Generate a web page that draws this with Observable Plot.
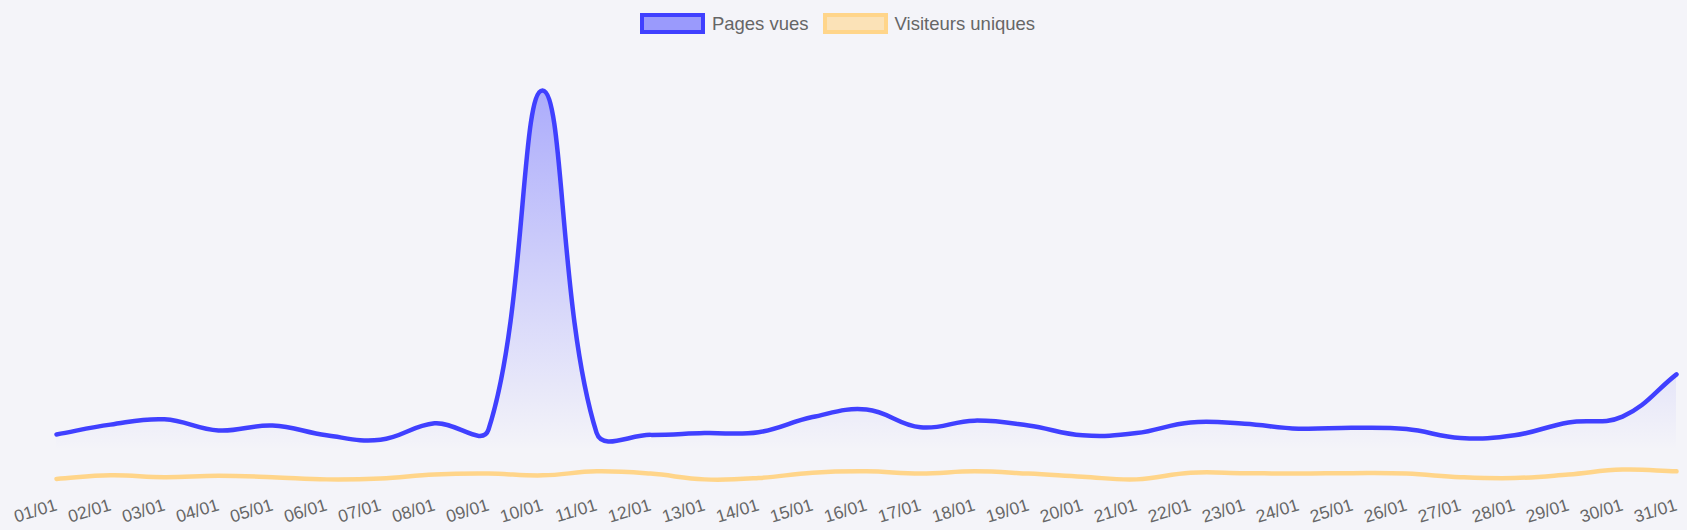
<!DOCTYPE html>
<html>
<head>
<meta charset="utf-8">
<script src="https://cdn.jsdelivr.net/npm/d3@7"></script>
<script src="https://cdn.jsdelivr.net/npm/@observablehq/plot@0.6"></script>
<style>
  html, body { margin: 0; padding: 0; background: #f4f4f9; }
  body { width: 1687px; height: 530px; overflow: hidden; font-family: "Liberation Sans", Arial, sans-serif; }
  #legend { height: 36px; box-sizing: border-box; padding-top: 13px; padding-right: 12px; display: flex; justify-content: center; align-items: flex-start; font-size: 18.5px; color: #666; line-height: 21px; }
  .item { display: inline-flex; align-items: center; margin: 0 7px; }
  .box { display: inline-block; width: 57px; height: 13px; border: 4px solid; margin-right: 7px; }
  #chart svg { display: block; }
</style>
</head>
<body>
<div id="legend"></div>
<div id="chart"></div>
<script>
const days = ["01/01","02/01","03/01","04/01","05/01","06/01","07/01","08/01","09/01","10/01",
  "11/01","12/01","13/01","14/01","15/01","16/01","17/01","18/01","19/01","20/01",
  "21/01","22/01","23/01","24/01","25/01","26/01","27/01","28/01","29/01","30/01","31/01"];
const pageViews = [126,148,160,135,146,124,114,151,137,899,
  130,125,129,131,165,182,142,157,146,124,
  129,153,150,139,141,138,118,124,153,166,261];
const uniqueVisitors = [26,34,30,33,30,25,27,36,38,34,
  43,38,25,28,40,43,38,43,38,31,
  25,40,39,38,39,38,30,28,36,47,43];
const seriesNames = ["Pages vues", "Visiteurs uniques"];
const blue = "#4040ff";
const orange = "#ffd58a";

// legend
const legend = document.getElementById("legend");
[[seriesNames[0], blue, "rgba(64,64,255,0.5)"], [seriesNames[1], orange, "rgba(255,213,138,0.6)"]].forEach(([name, stroke, fill]) => {
  const it = document.createElement("span");
  it.className = "item";
  const b = document.createElement("span");
  b.className = "box";
  b.style.borderColor = stroke;
  b.style.background = fill;
  it.appendChild(b);
  it.appendChild(document.createTextNode(name));
  legend.appendChild(it);
});

// Chart.js-like bezier spline (tension 0.4)
function chartjsCurve(tension) {
  return function(context) { return new ChartjsSpline(context, tension); };
}
function ChartjsSpline(context, t) { this._context = context; this._t = t; }
ChartjsSpline.prototype = {
  areaStart() { this._line = 0; },
  areaEnd() { this._line = NaN; },
  lineStart() { this._pts = []; },
  point(x, y) { this._pts.push([+x, +y]); },
  lineEnd() {
    const p = this._pts, n = p.length, c = this._context, t = this._t;
    if (n) {
      if (this._line) c.lineTo(p[0][0], p[0][1]); else c.moveTo(p[0][0], p[0][1]);
      const cps = p.map((cur, i) => {
        const prev = p[i - 1] || cur, next = p[i + 1] || cur;
        const d01 = Math.hypot(cur[0] - prev[0], cur[1] - prev[1]);
        const d12 = Math.hypot(next[0] - cur[0], next[1] - cur[1]);
        let s01 = d01 / (d01 + d12), s12 = d12 / (d01 + d12);
        if (isNaN(s01)) s01 = 0;
        if (isNaN(s12)) s12 = 0;
        const fa = t * s01, fb = t * s12;
        return {
          px: cur[0] - fa * (next[0] - prev[0]), py: cur[1] - fa * (next[1] - prev[1]),
          nx: cur[0] + fb * (next[0] - prev[0]), ny: cur[1] + fb * (next[1] - prev[1])
        };
      });
      for (let i = 1; i < n; i++) {
        c.bezierCurveTo(cps[i - 1].nx, cps[i - 1].ny, cps[i].px, cps[i].py, p[i][0], p[i][1]);
      }
    }
    if (this._line || (this._line !== 0 && n === 1)) c.closePath();
    this._line = 1 - this._line;
  }
};
const curve = chartjsCurve(0.4);

const table = days.map((d, i) => ({day: d, views: pageViews[i], visitors: uniqueVisitors[i]}));

const H = 494, MT = 9, MB = 40;
const gradient = () => {
  const defs = d3.create("svg:defs");
  const g = defs.append("linearGradient").attr("id", "blueGrad")
    .attr("gradientUnits", "userSpaceOnUse").attr("x1", 0).attr("x2", 0).attr("y1", MT).attr("y2", 414);
  g.append("stop").attr("offset", 0).attr("stop-color", "rgb(64,64,255)").attr("stop-opacity", 0.45);
  g.append("stop").attr("offset", 1).attr("stop-color", "rgb(64,64,255)").attr("stop-opacity", 0);
  const o = defs.append("linearGradient").attr("id", "orangeGrad")
    .attr("gradientUnits", "userSpaceOnUse").attr("x1", 0).attr("x2", 0).attr("y1", MT).attr("y2", 414);
  o.append("stop").attr("offset", 0).attr("stop-color", "rgb(255,213,138)").attr("stop-opacity", 0.45);
  o.append("stop").attr("offset", 1).attr("stop-color", "rgb(255,213,138)").attr("stop-opacity", 0);
  return defs.node();
};

const chart = Plot.plot({
  width: 1687,
  height: H,
  marginTop: MT,
  marginBottom: MB,
  marginLeft: 55,
  marginRight: 10,
  style: {background: "transparent", fontFamily: "'Liberation Sans', Arial, sans-serif", overflow: "visible"},
  x: {type: "point", domain: days, padding: 0, axis: null},
  y: {domain: [0, 1000], axis: null},
  marks: [
    gradient,
    Plot.areaY(table, {x: "day", y: "views", fill: "url(#blueGrad)", curve}),
    Plot.areaY(table, {x: "day", y: "visitors", fill: "url(#orangeGrad)", curve}),
    Plot.line(table, {x: "day", y: "visitors", stroke: orange, strokeWidth: 4.5, curve}),
    Plot.line(table, {x: "day", y: "views", stroke: blue, strokeWidth: 4.5, curve}),
    Plot.axisX({label: null, tickSize: 0, tickPadding: 14, tickRotate: -17, textAnchor: "end", fontSize: 17.5, fill: "#666", color: "#666"})
  ]
});
document.getElementById("chart").appendChild(chart);
</script>
</body>
</html>
